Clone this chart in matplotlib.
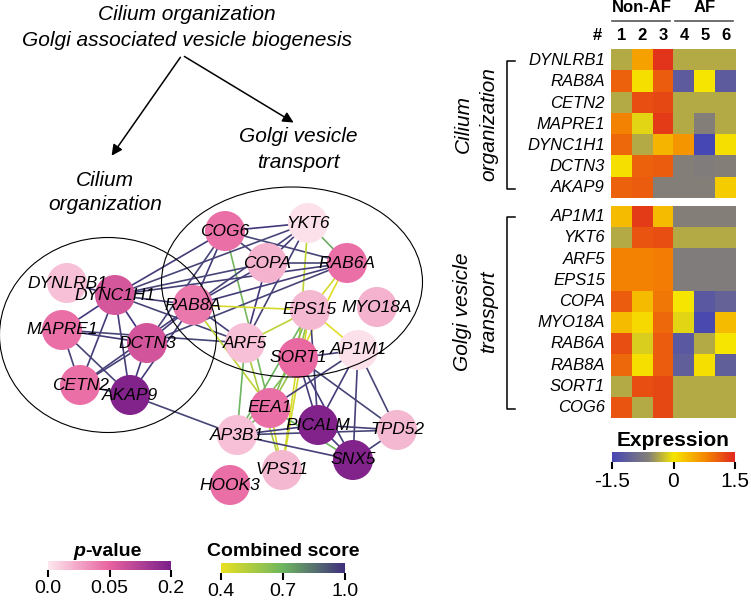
import numpy as np
import matplotlib
matplotlib.use('Agg')
import matplotlib.pyplot as plt
from matplotlib.colors import LinearSegmentedColormap, Normalize
from matplotlib.patches import Circle, Ellipse
import matplotlib as mpl

plt.rcParams['font.family'] = ['Liberation Sans', 'DejaVu Sans']

# ---- network data ----
genes = ['DYNLRB1', 'DYNC1H1', 'MAPRE1', 'DCTN3', 'CETN2', 'AKAP9', 'RAB8A',
         'COG6', 'YKT6', 'COPA', 'RAB6A', 'EPS15', 'MYO18A', 'ARF5', 'SORT1',
         'AP1M1', 'EEA1', 'PICALM', 'TPD52', 'AP3B1', 'SNX5', 'VPS11', 'HOOK3']
pvals = [0.015, 0.075, 0.045, 0.08, 0.045, 0.19, 0.042,
         0.045, 0.003, 0.02, 0.045, 0.018, 0.02, 0.015, 0.048,
         0.003, 0.045, 0.19, 0.018, 0.015, 0.19, 0.018, 0.045]

edges = [('COG6', 'YKT6', 0.98), ('COG6', 'RAB6A', 0.95), ('COG6', 'COPA', 0.95),
         ('COG6', 'DYNC1H1', 0.97), ('COG6', 'RAB8A', 0.97), ('COG6', 'DCTN3', 0.95),
         ('COG6', 'EEA1', 0.68), ('YKT6', 'COPA', 0.97), ('YKT6', 'RAB8A', 0.96),
         ('YKT6', 'DYNC1H1', 0.95), ('YKT6', 'ARF5', 0.96), ('YKT6', 'RAB6A', 0.72),
         ('YKT6', 'SORT1', 0.5), ('RAB6A', 'DYNC1H1', 0.96), ('RAB6A', 'RAB8A', 0.97),
         ('RAB6A', 'DCTN3', 0.95), ('RAB6A', 'COPA', 0.95), ('RAB6A', 'EPS15', 0.45),
         ('RAB6A', 'SORT1', 0.42), ('COPA', 'ARF5', 0.98), ('COPA', 'RAB8A', 0.96),
         ('COPA', 'DYNC1H1', 0.95), ('DYNC1H1', 'DYNLRB1', 0.99), ('DYNC1H1', 'MAPRE1', 0.98),
         ('DYNC1H1', 'DCTN3', 0.99), ('DYNC1H1', 'CETN2', 0.97), ('DYNC1H1', 'AKAP9', 0.97),
         ('DYNC1H1', 'RAB8A', 0.96), ('DYNC1H1', 'ARF5', 0.95), ('MAPRE1', 'DCTN3', 0.97),
         ('MAPRE1', 'CETN2', 0.96), ('MAPRE1', 'AKAP9', 0.95), ('MAPRE1', 'ARF5', 0.95),
         ('DCTN3', 'CETN2', 0.96), ('DCTN3', 'AKAP9', 0.98), ('DCTN3', 'RAB8A', 0.97),
         ('CETN2', 'RAB8A', 0.96), ('CETN2', 'AKAP9', 0.97), ('AKAP9', 'RAB8A', 0.97),
         ('AKAP9', 'AP3B1', 0.95), ('RAB8A', 'ARF5', 0.96), ('RAB8A', 'EPS15', 0.45),
         ('RAB8A', 'EEA1', 0.5), ('EPS15', 'AP1M1', 0.42), ('EPS15', 'ARF5', 0.5),
         ('EPS15', 'EEA1', 0.65), ('EPS15', 'VPS11', 0.45), ('EPS15', 'AP3B1', 0.7),
         ('EPS15', 'SORT1', 0.6), ('EPS15', 'PICALM', 0.96), ('ARF5', 'AP3B1', 0.7),
         ('ARF5', 'VPS11', 0.55), ('SORT1', 'AP1M1', 0.96), ('SORT1', 'PICALM', 0.97),
         ('SORT1', 'SNX5', 0.97), ('SORT1', 'TPD52', 0.95), ('SORT1', 'AP3B1', 0.65),
         ('SORT1', 'VPS11', 0.45), ('SORT1', 'EEA1', 0.6), ('AP1M1', 'EEA1', 0.96),
         ('AP1M1', 'PICALM', 0.97), ('AP1M1', 'SNX5', 0.96), ('AP1M1', 'TPD52', 0.95),
         ('EEA1', 'VPS11', 0.45), ('EEA1', 'AP3B1', 0.7), ('EEA1', 'SNX5', 0.7),
         ('PICALM', 'AP3B1', 0.97), ('PICALM', 'TPD52', 0.96), ('PICALM', 'SNX5', 0.98),
         ('AP3B1', 'TPD52', 0.95), ('AP3B1', 'SNX5', 0.96), ('TPD52', 'SNX5', 0.96)]

# ---- heatmap data ----
samples = ['1', '2', '3', '4', '5', '6']
cilium_genes = ['DYNLRB1', 'RAB8A', 'CETN2', 'MAPRE1', 'DYNC1H1', 'DCTN3', 'AKAP9']
cilium_expr = [[-0.35, 0.55, 1.4, -0.35, -0.35, -0.35],
               [1.05, 0.05, 1.1, -1.15, 0.0, -1.15],
               [-0.35, 1.2, 1.25, -0.35, -0.35, -0.35],
               [0.8, -0.1, 1.35, -0.35, -0.6, -0.35],
               [1.0, -0.35, 0.4, 0.65, -1.5, 0.05],
               [0.05, 1.05, 1.1, -0.6, -0.65, -0.6],
               [1.05, 1.1, -0.6, -0.6, -0.6, 0.2]]
golgi_genes = ['AP1M1', 'YKT6', 'ARF5', 'EPS15', 'COPA', 'MYO18A', 'RAB6A',
               'RAB8A', 'SORT1', 'COG6']
golgi_expr = [[0.35, 1.35, 0.35, -0.6, -0.6, -0.6],
              [-0.35, 1.15, 1.2, -0.35, -0.35, -0.35],
              [0.8, 0.8, 0.85, -0.65, -0.65, -0.65],
              [0.8, 0.8, 0.85, -0.65, -0.65, -0.65],
              [1.1, 0.35, 0.9, 0.0, -1.2, -1.05],
              [0.35, 0.1, 1.0, -0.1, -1.45, 0.35],
              [1.2, -0.15, 1.1, -1.2, -0.35, 0.0],
              [1.0, 0.05, 1.1, -1.1, 0.05, -1.1],
              [-0.35, 1.2, 1.25, -0.35, -0.35, -0.35],
              [1.15, -0.35, 1.25, -0.35, -0.35, -0.35]]

# ---- layout (pixels) ----
pos = {'DYNLRB1': (67, 283), 'DYNC1H1': (115, 295), 'MAPRE1': (62, 330),
       'DCTN3': (147, 343), 'CETN2': (80, 385), 'AKAP9': (130, 395),
       'RAB8A': (193, 305), 'COG6': (225, 231), 'YKT6': (308, 223),
       'COPA': (267, 263), 'RAB6A': (347, 263), 'EPS15': (310, 310),
       'MYO18A': (377, 307), 'ARF5': (245, 343), 'SORT1': (298, 358),
       'AP1M1': (358, 350), 'EEA1': (270, 408), 'PICALM': (318, 425),
       'TPD52': (397, 430), 'AP3B1': (237, 435), 'SNX5': (353, 460),
       'VPS11': (282, 470), 'HOOK3': (230, 485)}

pcmap = LinearSegmentedColormap.from_list('pv', ['#fde8ee', '#e8629f', '#7a1f8a'])
scmap = LinearSegmentedColormap.from_list('sc', ['#e8e020', '#6db560', '#3f2f7c'])
ecmap = LinearSegmentedColormap.from_list(
    'ex', [(0, '#4646b4'), (0.3, '#848078'), (0.5, '#f5e600'),
           (0.75, '#f58a00'), (1.0, '#e0281e')])

fig = plt.figure(figsize=(7.51, 6.04), dpi=100)
ax = fig.add_axes([0, 0, 1, 1])
ax.set_xlim(0, 751)
ax.set_ylim(604, 0)
ax.axis('off')

# edges
for a, b, s in edges:
    (x1, y1), (x2, y2) = pos[a], pos[b]
    ax.plot([x1, x2], [y1, y2], color=scmap((s - 0.4) / 0.6), lw=1.2, zorder=1)

# nodes
for g, p in zip(genes, pvals):
    c = pcmap(np.interp(p, [0, 0.05, 0.2], [0, 0.5, 1]))
    ax.add_patch(Circle(pos[g], 20, facecolor=c, edgecolor='none', zorder=2))
    ax.text(pos[g][0], pos[g][1], g, ha='center', va='center', style='italic',
            fontsize=12.5, zorder=4)

ax.add_patch(Ellipse((108, 335), 217, 195, fill=False, lw=0.8, ec='black', zorder=3))
ax.add_patch(Ellipse((292, 282), 261, 190, fill=False, lw=0.8, ec='black', zorder=3))

# titles and arrows
ax.text(187, 15, 'Cilium organization', ha='center', va='center', style='italic', fontsize=15)
ax.text(187, 41, 'Golgi associated vesicle biogenesis', ha='center', va='center',
        style='italic', fontsize=15)
for tx, ty in [(110, 158), (296, 124)]:
    ax.annotate('', xy=(tx, ty), xytext=(182, 55),
                arrowprops=dict(arrowstyle='-|>', color='black', lw=1.1, mutation_scale=16))
ax.text(298, 137, 'Golgi vesicle', ha='center', va='center', style='italic', fontsize=15)
ax.text(298, 163, 'transport', ha='center', va='center', style='italic', fontsize=15)
ax.text(105, 180, 'Cilium', ha='center', va='center', style='italic', fontsize=15)
ax.text(105, 205, 'organization', ha='center', va='center', style='italic', fontsize=15)

# heatmap
x0, x1 = 611, 736
cw = (x1 - x0) / 6
rh = 21.2
blocks = [(cilium_genes, cilium_expr, 50, 'Cilium', 'organization'),
          (golgi_genes, golgi_expr, 206, 'Golgi vesicle', 'transport')]
for names, vals, top, l1, l2 in blocks:
    bot = top + rh * len(names)
    ax.imshow(np.array(vals), cmap=ecmap, vmin=-1.5, vmax=1.5, aspect='auto',
              interpolation='nearest', extent=(x0, x1, bot, top), zorder=1)
    for i, n in enumerate(names):
        ax.text(605, top + rh * (i + 0.5), n, ha='right', va='center',
                style='italic', fontsize=12)
    ax.plot([515, 507, 507, 515], [top + 11, top + 11, bot - 9, bot - 9],
            color='black', lw=1.1)
    ym = (top + bot) / 2
    ax.text(463, ym, l1, rotation=90, ha='center', va='center', style='italic', fontsize=15)
    ax.text(489, ym, l2, rotation=90, ha='center', va='center', style='italic', fontsize=15)
ax.set_xlim(0, 751)
ax.set_ylim(604, 0)

ax.text(x0 + 1.5 * cw, 8, 'Non-AF', ha='center', va='center', fontweight='bold', fontsize=12)
ax.text(x0 + 4.5 * cw, 8, 'AF', ha='center', va='center', fontweight='bold', fontsize=12)
ax.plot([612, 670], [21, 21], color='#555555', lw=1.2)
ax.plot([675, 733], [21, 21], color='#555555', lw=1.2)
ax.text(597, 35, '#', ha='center', va='center', fontweight='bold', fontsize=12)
for j, s in enumerate(samples):
    ax.text(x0 + (j + 0.5) * cw, 35, s, ha='center', va='center', fontweight='bold', fontsize=12)


def add_bar(left, top, right, bottom, cmap, vmin, vmax, ticks, labels, fs):
    cax = fig.add_axes([left / 751, 1 - bottom / 604, (right - left) / 751, (bottom - top) / 604])
    sm = mpl.cm.ScalarMappable(norm=Normalize(vmin, vmax), cmap=cmap)
    cb = fig.colorbar(sm, cax=cax, orientation='horizontal')
    cb.outline.set_visible(False)
    cb.set_ticks(ticks)
    cb.set_ticklabels(labels)
    cax.tick_params(length=5, width=1.5, labelsize=fs, pad=2)
    return cb


add_bar(612, 452, 735, 462, ecmap, -1.5, 1.5, [-1.5, 0, 1.5], ['-1.5', '0', '1.5'], 15)
ax.text(673, 440, 'Expression', ha='center', va='center', fontweight='bold', fontsize=15)

add_bar(48, 561, 171, 570, pcmap, 0, 1, [0, 0.5, 1], ['0.0', '0.05', '0.2'], 14)
ax.text(85.5, 552, 'p', ha='right', va='center', fontweight='bold', style='italic', fontsize=14)
ax.text(85, 552, '-value', ha='left', va='center', fontweight='bold', fontsize=14)

add_bar(221, 563, 345, 573, scmap, 0.4, 1.0, [0.4, 0.7, 1.0], ['0.4', '0.7', '1.0'], 14)
ax.text(283, 552, 'Combined score', ha='center', va='center', fontweight='bold', fontsize=14)

fig.savefig('out.png', dpi=100)
